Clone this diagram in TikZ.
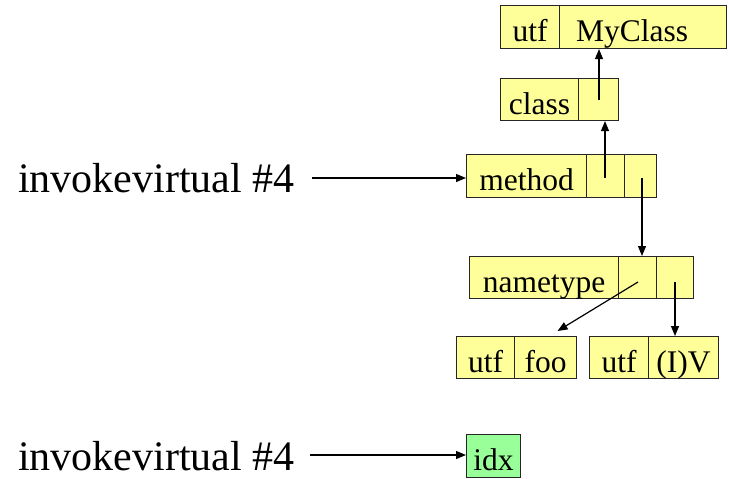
\documentclass[tikz,border=0pt]{standalone}
\usepackage{fontspec}
\setmainfont{Liberation Serif}
\usetikzlibrary{arrows.meta}
\definecolor{cellyellow}{HTML}{FFFF99}
\definecolor{cellgreen}{HTML}{99FF99}
\begin{document}
\begin{tikzpicture}[x=1pt,y=-1pt,
  cell/.style={draw=black!85, line width=1.1pt, fill=cellyellow, anchor=north west,
    minimum height=42pt, inner sep=0pt, text height=29pt, text depth=0pt,
    font=\fontsize{31.5}{36}\selectfont},
  bigtext/.style={anchor=base west, inner sep=0pt, font=\fontsize{42}{50}\selectfont},
  conn/.style={line width=1.2pt, -{Triangle[length=10pt,width=8pt]}}
]
\useasboundingbox (0,0) rectangle (729,479);

% utf | MyClass
\node[cell, minimum width=59pt, minimum height=43pt] (a1) at (500,5) {utf};
\node[cell, minimum width=167pt, minimum height=43pt, text width=134pt, align=left] (a2) at (559,5) {MyClass};
% class
\node[cell, minimum width=78pt] (b1) at (500,78) {class};
\node[cell, minimum width=40pt] (b2) at (578,78) {};
% method
\node[cell, minimum width=120pt, minimum height=43pt] (m1) at (466,154) {method};
\node[cell, minimum width=38pt, minimum height=43pt] (m2) at (586,154) {};
\node[cell, minimum width=32pt, minimum height=43pt] (m3) at (624,154) {};
% nametype
\node[cell, minimum width=149pt] (n1) at (469,256) {nametype};
\node[cell, minimum width=38pt] (n2) at (618,256) {};
\node[cell, minimum width=37pt] (n3) at (656,256) {};
% utf foo
\node[cell, minimum width=58pt] (f1) at (456,336) {utf};
\node[cell, minimum width=62pt] (f2) at (514,336) {foo};
% utf (I)V
\node[cell, minimum width=59pt] (v1) at (589,336) {utf};
\node[cell, minimum width=70pt] (v2) at (648,336) {(I)V};
% idx
\node[cell, fill=cellgreen, minimum width=54pt, minimum height=43pt] (idx) at (466,434) {idx};

% left texts
\node[bigtext] (inv1) at (18,192) {invokevirtual \#4};
\node[bigtext] (inv2) at (18,470) {invokevirtual \#4};

% connector start points
\coordinate (b2dot) at (599,100);
\coordinate (m2dot) at (605,178);
\coordinate (m3dot) at (642,178);
\coordinate (n2dot) at (638,282);
\coordinate (n3dot) at (675,282);
\coordinate (inv1s) at (312,178);
\coordinate (inv2s) at (310,455);

\draw[conn] (b2dot) -- (b2dot |- a2.south);
\draw[conn] (m2dot) -- (m2dot |- b2.south);
\draw[conn] (m3dot) -- (m3dot |- n2.north);
\draw[conn] (n2dot) -- ([xshift=12pt,yshift=5pt]f2.north);
\draw[conn] (n3dot) -- (n3dot |- v2.north);
\draw[conn] (inv1s) -- (inv1s -| m1.west);
\draw[conn] (inv2s) -- (inv2s -| idx.west);
\end{tikzpicture}
\end{document}
